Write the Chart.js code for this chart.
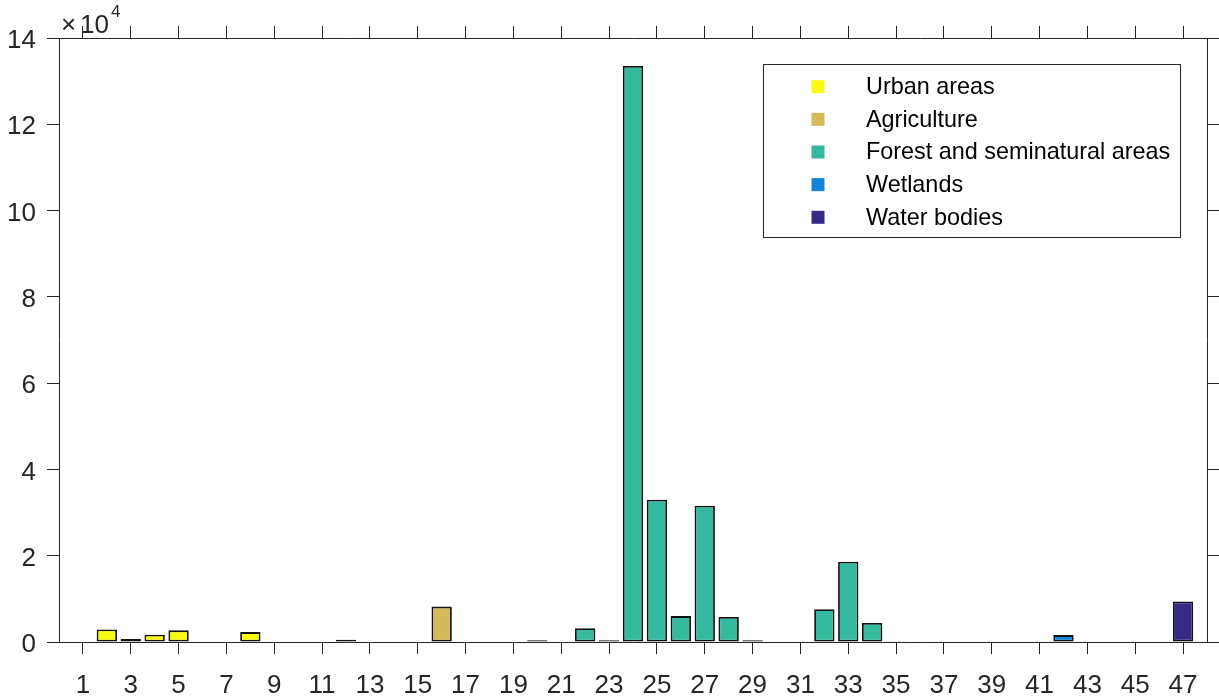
<!DOCTYPE html>
<html>
<head>
<meta charset="utf-8">
<title>Land cover classes</title>
<script src="https://cdn.jsdelivr.net/npm/chart.js@4.4.1/dist/chart.umd.min.js"></script>
<style>
    html, body { margin: 0; padding: 0; background: #fff; }
    #wrap { width: 1219px; height: 698px; position: relative; }
</style>
</head>
<body>
<div id="wrap"><canvas id="landChart" width="1219" height="698"></canvas></div>
<script>
// class number (x axis)
const classes = [1,2,3,4,5,6,7,8,9,10,11,12,13,14,15,16,17,18,19,20,21,22,23,24,25,26,27,28,29,30,31,32,33,34,35,36,37,38,39,40,41,42,43,44,45,46,47];
// area per class
const areas = [100,2900,700,1700,2700,0,0,2300,0,0,0,500,100,0,0,8200,0,0,0,400,0,3200,400,133500,33000,6000,31600,5800,400,0,0,7600,18600,4400,200,0,0,100,0,0,100,1600,0,0,0,100,9400];
// group of each class: 0 urban, 1 agriculture, 2 forest, 3 wetlands, 4 water
const classGroup = [0,0,0,0,0,0,0,0,0,0,0,1,1,1,1,1,1,1,1,1,1,2,2,2,2,2,2,2,2,2,2,2,2,2,3,3,3,3,3,3,3,3,4,4,4,4,4];
const groupNames = ['Urban areas', 'Agriculture', 'Forest and seminatural areas', 'Wetlands', 'Water bodies'];
const groupColors = ['#F9FB0E', '#D3BB5A', '#35B99F', '#1384D6', '#352A87'];
// tick labels
const xTicks = [1,3,5,7,9,11,13,15,17,19,21,23,25,27,29,31,33,35,37,39,41,43,45,47];
const yTicks = [0,2,4,6,8,10,12,14];
const yScale = 10000;

const fontFam = '"Liberation Sans", Arial, Helvetica, sans-serif';
const axisCol = '#262626';

// legend box + x10^4 label, drawn on the canvas
const extrasPlugin = {
    id: 'extras',
    afterDraw(chart) {
        const ctx = chart.ctx;
        const area = chart.chartArea;
        ctx.save();
        // exponent label
        ctx.fillStyle = axisCol;
        ctx.textBaseline = 'alphabetic';
        ctx.textAlign = 'left';
        ctx.font = '26px ' + fontFam;
        ctx.fillText('\u00d7', area.left + 2, area.top - 5);
        ctx.fillText('10', area.left + 21, area.top - 5);
        ctx.font = '17px ' + fontFam;
        ctx.fillText('4', area.left + 52, area.top - 21);

        // legend
        const bx = area.right - 443.5, by = area.top + 26.5, bw = 417, bh = 173;
        ctx.fillStyle = '#fff';
        ctx.fillRect(bx, by, bw, bh);
        ctx.strokeStyle = axisCol;
        ctx.lineWidth = 1;
        ctx.strokeRect(bx, by, bw, bh);
        ctx.font = '23.4px ' + fontFam;
        ctx.textBaseline = 'middle';
        for (let i = 0; i < groupNames.length; i++) {
            const cy = by + 22.2 + i * 32.65;
            ctx.fillStyle = groupColors[i];
            ctx.fillRect(bx + 48, cy - 6.5, 13, 13);
            ctx.fillStyle = '#000';
            ctx.fillText(groupNames[i], bx + 102.5, cy + 1);
        }
        ctx.restore();
    }
};

const gridOpts = {
    drawOnChartArea: false,
    drawTicks: true,
    offset: false,
    tickLength: 12,
    tickWidth: 1,
    color: axisCol
};
const borderOpts = { display: true, color: axisCol, width: 1 };

document.addEventListener('DOMContentLoaded', function() {
    const ctx = document.getElementById('landChart').getContext('2d');
    new Chart(ctx, {
        type: 'bar',
        data: {
            datasets: [{
                data: classes.map((c, i) => ({ x: c, y: areas[i] })),
                backgroundColor: classGroup.map(g => groupColors[g]),
                borderColor: '#111',
                borderWidth: 1.8,
                borderSkipped: false,
                barPercentage: 0.85,
                categoryPercentage: 1.0
            }]
        },
        options: {
            responsive: false,
            animation: false,
            layout: { padding: 0 },
            plugins: {
                legend: { display: false },
                tooltip: { enabled: false }
            },
            scales: {
                x: {
                    type: 'linear',
                    position: 'bottom',
                    offset: false,
                    min: 0,
                    max: 48,
                    afterBuildTicks: axis => { axis.ticks = xTicks.map(v => ({ value: v })); },
                    afterFit: s => { s.height = 56; },
                    grid: gridOpts,
                    border: borderOpts,
                    ticks: {
                        autoSkip: false,
                        maxRotation: 0,
                        padding: 16,
                        color: axisCol,
                        font: { family: fontFam, size: 26 },
                        callback: v => String(v)
                    }
                },
                x2: {
                    type: 'linear',
                    position: 'top',
                    offset: false,
                    min: 0,
                    max: 48,
                    afterBuildTicks: axis => { axis.ticks = xTicks.map(v => ({ value: v })); },
                    afterFit: s => { s.height = 38; },
                    grid: gridOpts,
                    border: borderOpts,
                    ticks: { display: false }
                },
                y: {
                    position: 'left',
                    min: 0,
                    max: 14 * yScale,
                    afterBuildTicks: axis => { axis.ticks = yTicks.map(v => ({ value: v * yScale })); },
                    afterFit: s => { s.width = 59; },
                    grid: gridOpts,
                    border: borderOpts,
                    ticks: {
                        padding: 11,
                        labelOffset: 3,
                        color: axisCol,
                        font: { family: fontFam, size: 26 },
                        callback: v => String(v / yScale)
                    }
                },
                y2: {
                    position: 'right',
                    min: 0,
                    max: 14 * yScale,
                    afterBuildTicks: axis => { axis.ticks = yTicks.map(v => ({ value: v * yScale })); },
                    afterFit: s => { s.width = 12; },
                    grid: gridOpts,
                    border: borderOpts,
                    ticks: { display: false }
                }
            }
        },
        plugins: [extrasPlugin]
    });
});
</script>
</body>
</html>
